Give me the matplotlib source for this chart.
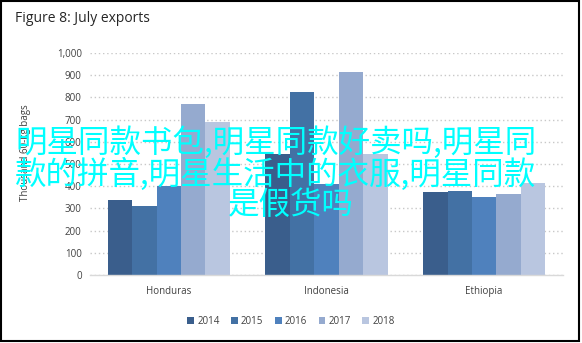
import numpy as np
import matplotlib
matplotlib.use("Agg")
import matplotlib.pyplot as plt
from matplotlib.patches import Rectangle

plt.rcParams["font.family"] = ["Open Sans", "DejaVu Sans"]

countries = ["Honduras", "Indonesia", "Ethiopia"]
years = ["2014", "2015", "2016", "2017", "2018"]
exports_2014 = [340, 545, 375]
exports_2015 = [310, 825, 380]
exports_2016 = [400, 410, 350]
exports_2017 = [770, 915, 365]
exports_2018 = [690, 545, 415]
year_colors = ["#3A5E8C", "#4371A4", "#4F81BD", "#95AACF", "#B9C6E0"]
y_ticks = [0, 100, 200, 300, 400, 500, 600, 700, 800, 900, 1000]

series = [exports_2014, exports_2015, exports_2016, exports_2017, exports_2018]

fig = plt.figure(figsize=(5.82, 3.43), dpi=100)
ax = fig.add_axes([90 / 582, 1 - 275 / 343, (563 - 90) / 582, (275 - 53) / 343])

x = np.arange(len(countries))
bw = 0.155
for i, (vals, yr, col) in enumerate(zip(series, years, year_colors)):
    ax.bar(x + (i - 2) * bw, vals, width=bw, color=col, label=yr, zorder=2)

ax.set_xlim(-0.5, 2.5)
ax.set_ylim(0, 1000)
ax.set_yticks(y_ticks)
ax.set_yticklabels([f"{v:,}" for v in y_ticks], fontsize=7, color="#404040")
ax.set_xticks(x)
ax.set_xticklabels(countries, fontsize=7, color="#404040")
ax.tick_params(length=0, pad=6)
ax.tick_params(axis="x", pad=8)
ax.grid(axis="y", color="#C8C8C8", linestyle=(0, (1, 2)), linewidth=1, zorder=0)
for s in ["top", "right", "left"]:
    ax.spines[s].set_visible(False)
ax.spines["bottom"].set_color("#D9D9D9")
ax.spines["bottom"].set_linewidth(1)
ax.set_ylabel("Thousand 60-kg bags", fontsize=7, color="#404040")
ax.yaxis.set_label_coords(-0.125, 0.55)

ax.legend(loc="center", bbox_to_anchor=(291 / 582, 1 - 321 / 343), bbox_transform=fig.transFigure,
          ncol=5, frameon=False, fontsize=7, handlelength=0.7, handleheight=0.7,
          handletextpad=0.3, columnspacing=1.2, labelcolor="#404040")

fig.text(15 / 582, 1 - 19 / 343, "Figure 8: July exports", fontsize=10, color="#262626",
         ha="left", va="center")

# overlaid caption
cjk = ["Noto Sans CJK SC", "DejaVu Sans"]
fig.text(15 / 582, 1 - 143 / 343, "明星同款书包,明星同款好卖吗,明星同", family=cjk,
         fontsize=22.7, color="#00FFFF", ha="left", va="center", zorder=5)
fig.text(15 / 582, 1 - 174 / 343, "款的拼音,明星生活中的衣服,明星同款", family=cjk,
         fontsize=22.7, color="#00FFFF", ha="left", va="center", zorder=5)
fig.text(291 / 582, 1 - 205 / 343, "是假货吗", family=cjk,
         fontsize=22.7, color="#00FFFF", ha="center", va="center", zorder=5)

fig.patches.append(Rectangle((1 / 582, 2 / 343), 578 / 582, 340 / 343, transform=fig.transFigure,
                             fill=False, edgecolor="black", linewidth=1.5))

fig.savefig("out.png", dpi=100)
